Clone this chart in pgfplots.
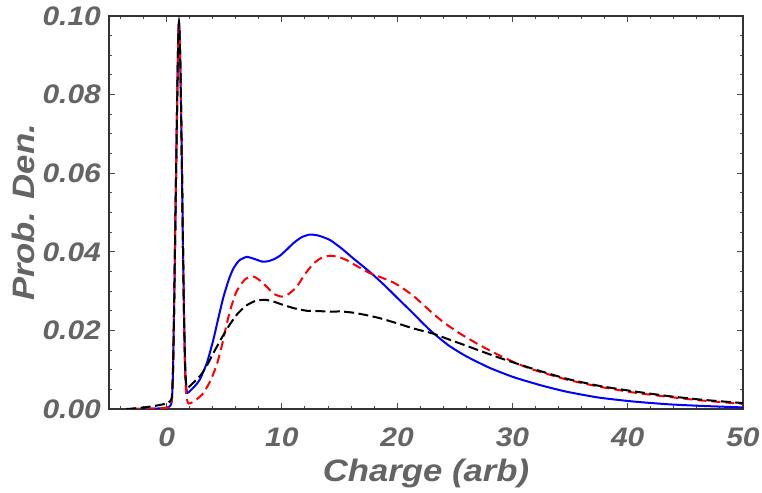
\documentclass[border=0pt]{standalone}
\usepackage{fontspec}
\setmainfont{Liberation Sans}[FakeStretch=1.12]
\usepackage{pgfplots}
\pgfplotsset{compat=1.18}
\definecolor{labgray}{RGB}{100,100,100}
\definecolor{mblue}{RGB}{0,0,255}
\definecolor{mred}{RGB}{255,0,0}
\begin{document}
\begin{tikzpicture}
\begin{axis}[
  scale only axis,
  width=317pt, height=196.5pt,
  xmin=-5, xmax=50, ymin=0, ymax=0.1,
  xtick={0,10,20,30,40,50},
  minor xtick={-4,-2,2,4,6,8,12,14,16,18,22,24,26,28,32,34,36,38,42,44,46,48},
  ytick={0,0.02,0.04,0.06,0.08,0.1},
  minor ytick={0.005,0.01,0.015,0.025,0.03,0.035,0.045,0.05,0.055,0.065,0.07,0.075,0.085,0.09,0.095},
  tick align=inside,
  major tick length=3pt, minor tick length=1.6pt,
  every tick/.style={black!70, line width=0.5pt},
  axis line style={black!80, line width=0.6pt},
  /pgf/number format/assume math mode=true,
  yticklabel style={/pgf/number format/fixed, /pgf/number format/fixed zerofill, /pgf/number format/precision=2, xshift=-0.5pt},
  xticklabel style={yshift=-6pt},
  scaled y ticks=false,
  ticklabel style={font=\fontsize{13.4}{15}\selectfont\bfseries\itshape, text=labgray},
  xlabel={Charge (arb)},
  ylabel={Prob. Den.},
  xlabel style={yshift=1pt},
  ylabel style={yshift=-3pt},
  label style={font=\fontsize{15.5}{17}\selectfont\bfseries\itshape, text=labgray},
  clip=true,
]
\addplot[mblue, line width=1pt, smooth, tension=0.35] coordinates {
(-3,0) (-1,0.0001) (0,0.0003) (0.3,0.0008) (0.45,0.002)
(0.55,0.009) (0.65,0.026) (0.75,0.046) (0.85,0.066) (0.95,0.085) (1.02,0.096) (1.07,0.0982)
(1.12,0.096) (1.2,0.086) (1.3,0.067) (1.4,0.045) (1.5,0.025) (1.6,0.011) (1.7,0.0055) (1.8,0.0041)
(2.0,0.0045) (2.5,0.0060) (2.9,0.0076) (3.5,0.0118) (4.05,0.0176) (4.5,0.0233) (4.92,0.0284)
(5.4,0.0330) (5.8,0.0358) (6.3,0.0378) (6.94,0.0387) (7.6,0.0382) (8.3,0.0375) (8.8,0.0376)
(9.3,0.0381) (9.83,0.0390) (10.4,0.0405) (11.0,0.0422) (11.7,0.0437) (12.44,0.0444) (13.2,0.0441)
(14.17,0.0430) (15.2,0.0408) (16.2,0.0383) (17.0,0.0364) (17.93,0.0341) (19.0,0.0312) (20.0,0.0283)
(21.4,0.0243) (22.2,0.0219) (23.1,0.0194) (24.5,0.0161) (26.0,0.0134) (28.0,0.0105) (30.1,0.0081)
(32.5,0.0060) (34.7,0.0044) (37.5,0.0029) (40.5,0.0019) (43.5,0.0012) (46.3,0.0008) (50,0.0004)
};
\addplot[mred, line width=1pt, smooth, tension=0.35, dash pattern=on 4.5pt off 2.5pt] coordinates {
(-3,0) (-1,0.0001) (0,0.0003) (0.3,0.0008) (0.45,0.002)
(0.55,0.009) (0.65,0.026) (0.75,0.046) (0.85,0.066) (0.95,0.085) (1.02,0.096) (1.07,0.0982)
(1.12,0.096) (1.2,0.086) (1.3,0.067) (1.4,0.045) (1.5,0.025) (1.6,0.009) (1.7,0.004) (1.8,0.002)
(1.9,0.0014) (2.1,0.0015) (2.5,0.0022) (3.18,0.0040) (3.8,0.0072) (4.34,0.0112) (4.8,0.0162)
(5.2,0.0215) (5.6,0.0260) (6.08,0.0300) (6.8,0.0330) (7.52,0.0337) (8.1,0.0327) (8.68,0.0311)
(9.3,0.0293) (9.98,0.0286) (10.6,0.0293) (11.28,0.0311) (12.0,0.0343) (12.7,0.0369) (13.4,0.0384)
(14.17,0.0390) (14.9,0.0387) (15.6,0.0379) (16.6,0.0362) (17.6,0.0346) (18.6,0.0335) (19.66,0.0322)
(20.5,0.0307) (21.4,0.0288) (22.2,0.0267) (23.1,0.0243) (24.1,0.0219) (25.5,0.0191) (27.2,0.0162)
(28.9,0.0136) (30.3,0.0117) (31.8,0.0100) (34.7,0.0075) (37.5,0.0057) (40.5,0.0042) (43.5,0.0031)
(46.3,0.0022) (50,0.0013)
};
\addplot[black, line width=1pt, smooth, tension=0.35, dash pattern=on 5pt off 2.2pt] coordinates {
(-3.5,0) (-3,0.0001) (-2,0.0004) (-1,0.0008) (0,0.0014) (0.3,0.002) (0.45,0.003)
(0.55,0.010) (0.65,0.026) (0.75,0.046) (0.85,0.066) (0.95,0.085) (1.02,0.096) (1.07,0.0984)
(1.12,0.096) (1.2,0.086) (1.3,0.067) (1.4,0.045) (1.5,0.026) (1.6,0.012) (1.7,0.0058)
(1.8,0.0054) (2.0,0.0058) (2.9,0.0084) (3.5,0.0111) (4.05,0.0142) (4.8,0.0182) (5.5,0.0216)
(6.2,0.0244) (6.95,0.0264) (7.7,0.0275) (8.53,0.0278) (9.3,0.0273) (10.1,0.0265) (11.1,0.0256)
(12.15,0.0250) (13.2,0.0249) (14.17,0.0248) (15.2,0.0248) (16.2,0.0245) (17.3,0.0239) (18.5,0.0231)
(20.0,0.0218) (21.4,0.0205) (23.1,0.0192) (24.3,0.0179) (26.0,0.0161) (27.2,0.0148) (28.9,0.0130)
(31.8,0.0102) (34.7,0.0077) (37.5,0.0059) (40.5,0.0045) (43.5,0.0033) (46.3,0.0024) (50,0.0015)
};
\end{axis}
\pgfresetboundingbox
\path (-54.5pt,-42pt) rectangle (326.5pt,204.5pt);
\end{tikzpicture}
\end{document}
